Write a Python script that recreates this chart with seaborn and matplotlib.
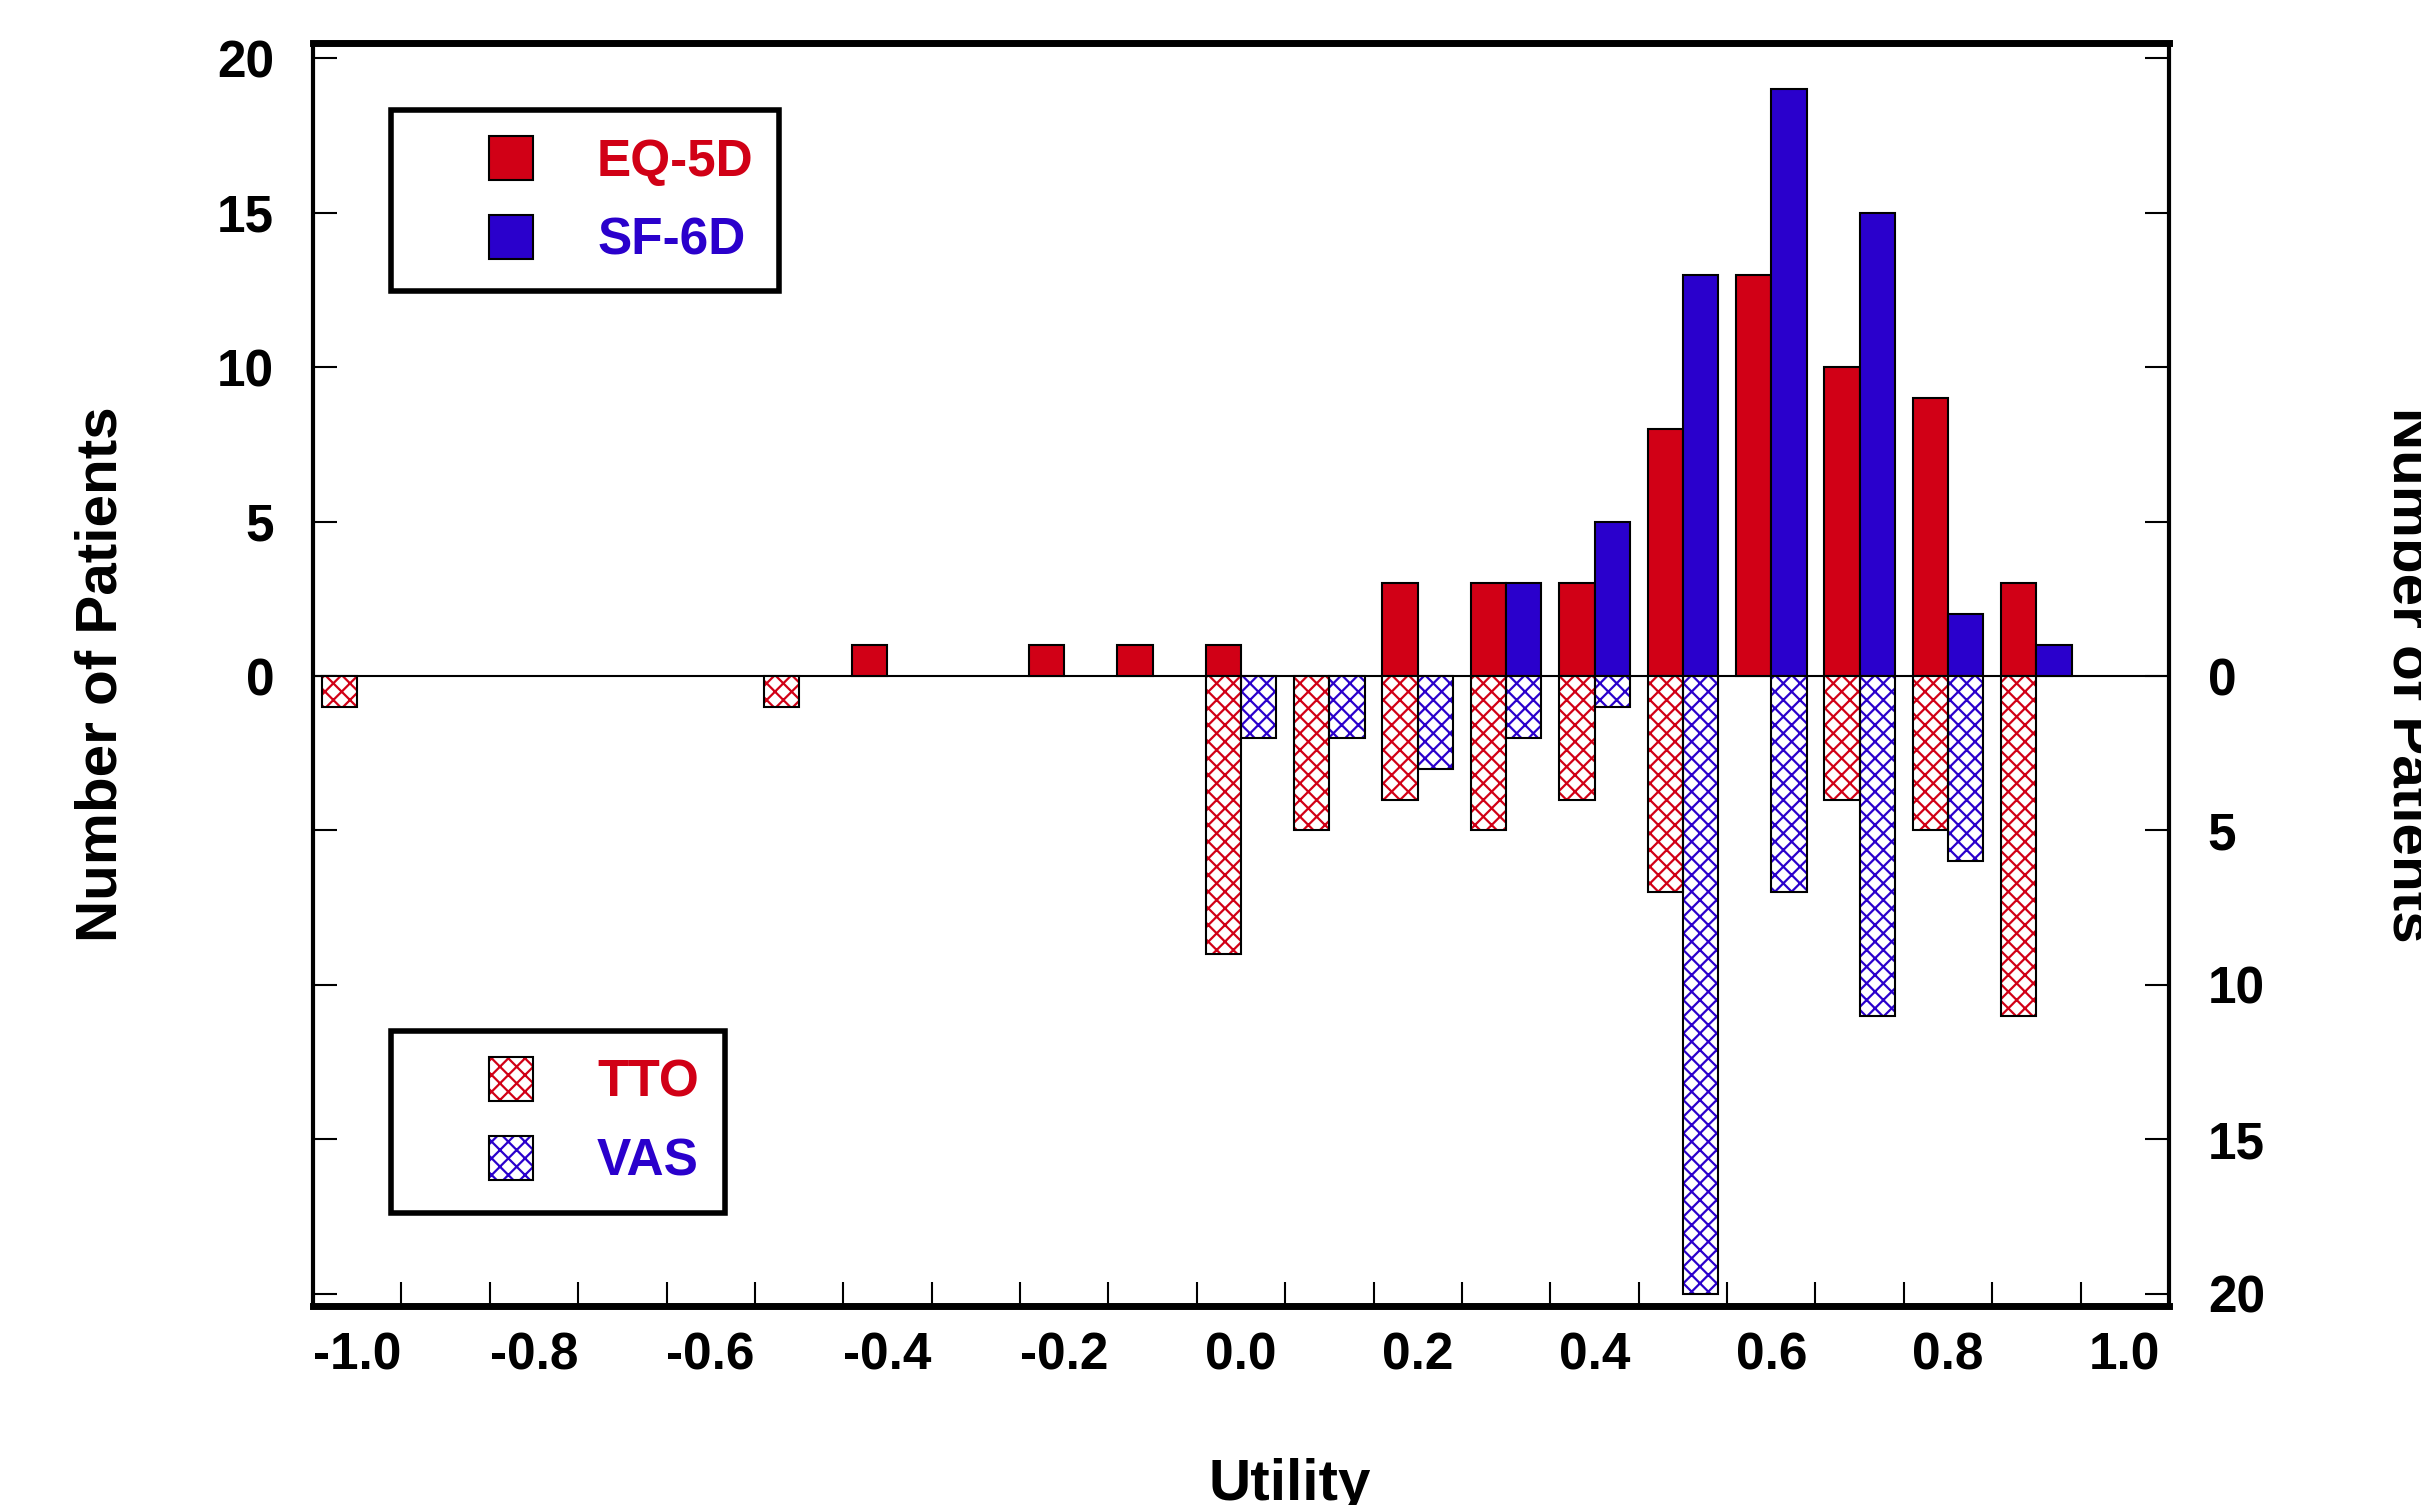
import matplotlib.pyplot as plt
import numpy as np
import pandas as pd
import seaborn as sns
from matplotlib.patches import Patch, Rectangle
from matplotlib.legend_handler import HandlerPatch

# --- data ---
bins = [-1.0, -0.5, -0.4, -0.2, -0.1, 0.0, 0.1, 0.2, 0.3, 0.4, 0.5, 0.6, 0.7, 0.8, 0.9]
eq5d = [0, 0, 1, 1, 1, 1, 0, 3, 3, 3, 8, 13, 10, 9, 3]
sf6d = [0, 0, 0, 0, 0, 0, 0, 0, 3, 5, 13, 19, 15, 2, 1]
tto = [1, 1, 0, 0, 0, 9, 5, 4, 5, 4, 7, 0, 4, 5, 11]
vas = [0, 0, 0, 0, 0, 2, 2, 3, 2, 1, 20, 7, 11, 6, 0]

xtick_vals = [-1.0, -0.8, -0.6, -0.4, -0.2, 0.0, 0.2, 0.4, 0.6, 0.8, 1.0]
xtick_labels = ['-1.0', '-0.8', '-0.6', '-0.4', '-0.2', '0.0', '0.2', '0.4', '0.6', '0.8', '1.0']
ytick_vals = [-20, -15, -10, -5, 0, 5, 10, 15, 20]
left_labels = ['', '', '', '', '0', '5', '10', '15', '20']
right_labels = ['20', '15', '10', '5', '0', '', '', '', '']

red = '#d10016'
blue = '#2a00cc'
hatch = 'xx'

sns.set_theme(style='white')
plt.rcParams['font.family'] = ['Liberation Sans', 'DejaVu Sans']
plt.rcParams['font.weight'] = 'bold'
plt.rcParams['hatch.linewidth'] = 1.6

n = len(bins)
pos = pd.DataFrame({'utility': bins * 2,
                    'count': eq5d + sf6d,
                    'measure': ['EQ-5D'] * n + ['SF-6D'] * n})
pos = pos[pos['count'] > 0]
neg = pd.DataFrame({'utility': bins * 2,
                    'count': [-v for v in tto] + [-v for v in vas],
                    'measure': ['TTO'] * n + ['VAS'] * n})
neg = neg[neg['count'] < 0]

fig = plt.figure(figsize=(24.21, 15.05), dpi=100)
ax = fig.add_axes([0.1293, 0.1322, 0.7666, 0.8392])
ax.axhline(0, color='black', lw=1.5, zorder=1)

# solid bars (upwards)
sns.barplot(data=pos, x='utility', y='count', hue='measure', hue_order=['EQ-5D', 'SF-6D'],
            palette=[red, blue], native_scale=True, orient='x', errorbar=None,
            saturation=1, edgecolor='black', linewidth=1.5, legend=False, ax=ax)

# hatched bars (downwards): hatch fill first, black outline on top
n0 = len(ax.containers)
sns.barplot(data=neg, x='utility', y='count', hue='measure', hue_order=['TTO', 'VAS'],
            palette=[red, blue], native_scale=True, orient='x', errorbar=None,
            saturation=1, linewidth=0, legend=False, ax=ax)
for cont, col in zip(ax.containers[n0:], [red, blue]):
    for bar in cont:
        bar.set_facecolor('white')
        bar.set_edgecolor(col)
        bar.set_hatch(hatch)
n1 = len(ax.containers)
sns.barplot(data=neg, x='utility', y='count', hue='measure', hue_order=['TTO', 'VAS'],
            palette=[red, blue], native_scale=True, orient='x', errorbar=None,
            fill=False, linewidth=1.5, legend=False, ax=ax)
for cont in ax.containers[n1:]:
    for bar in cont:
        bar.set_edgecolor('black')

ax.set_xlim(-1.05, 1.05)
ax.set_ylim(-20.4, 20.5)
ax.set_xticks(xtick_vals)
ax.set_xticklabels(xtick_labels)
ax.set_xticks(np.arange(-0.95, 0.96, 0.1), minor=True)
ax.set_yticks(ytick_vals)
ax.set_yticklabels(left_labels)
ax.tick_params(axis='x', which='major', length=0, pad=18, labelsize=37, colors='black')
ax.tick_params(axis='x', which='minor', direction='in', length=17, width=1.5,
               bottom=True, color='black')
ax.tick_params(axis='y', direction='in', length=17, width=1.5, pad=28, labelsize=37,
               left=True, colors='black')

for side, lw in [('top', 5), ('bottom', 5), ('left', 3), ('right', 3)]:
    ax.spines[side].set_linewidth(lw)
    ax.spines[side].set_color('black')

ax.set_xlabel('Utility', fontsize=42, fontweight='bold', color='black')
ax.xaxis.set_label_coords(0.526, -0.120)
ax.set_ylabel('Number of Patients', fontsize=42, fontweight='bold', color='black')
ax.yaxis.set_label_coords(-0.0994, 0.5)

ax2 = ax.twinx()
ax2.set_ylim(-20.4, 20.5)
ax2.set_yticks(ytick_vals)
ax2.set_yticklabels(right_labels)
ax2.tick_params(axis='y', direction='in', length=17, width=1.5, pad=28, labelsize=37,
                right=True, colors='black')
for side in ['top', 'bottom', 'left', 'right']:
    ax2.spines[side].set_visible(False)
ax2.set_ylabel('Number of Patients', fontsize=42, fontweight='bold', color='black',
               rotation=270, va='bottom')
ax2.yaxis.set_label_coords(1.1145, 0.5)


def square(legend, orig_handle, xdescent, ydescent, width, height, fontsize):
    return Rectangle((-xdescent + width - height, -ydescent), height, height)


hmap = {Patch: HandlerPatch(patch_func=square)}
leg_style = dict(handler_map=hmap, handlelength=2.27, handleheight=0.95, handletextpad=1.24,
                 labelspacing=0.55, borderpad=0.5, prop={'size': 37, 'weight': 'bold'},
                 frameon=True, fancybox=False, edgecolor='black', framealpha=1,
                 borderaxespad=0)

leg1 = ax.legend(handles=[Patch(facecolor=red, edgecolor='black', lw=1.5),
                          Patch(facecolor=blue, edgecolor='black', lw=1.5)],
                 labels=['EQ-5D', 'SF-6D'], labelcolor=[red, blue],
                 loc='upper left', bbox_to_anchor=(0.042, 0.947), **leg_style)
leg1.get_frame().set_linewidth(4)
ax.add_artist(leg1)

hatch_handles = [(Patch(facecolor='white', edgecolor=col, hatch=hatch, lw=0),
                  Patch(facecolor='none', edgecolor='black', lw=1.5)) for col in [red, blue]]
leg2 = ax.legend(handles=hatch_handles, labels=['TTO', 'VAS'], labelcolor=[red, blue],
                 loc='lower left', bbox_to_anchor=(0.042, 0.074), **leg_style)
leg2.get_frame().set_linewidth(4)

fig.savefig('out.png', dpi=100)
